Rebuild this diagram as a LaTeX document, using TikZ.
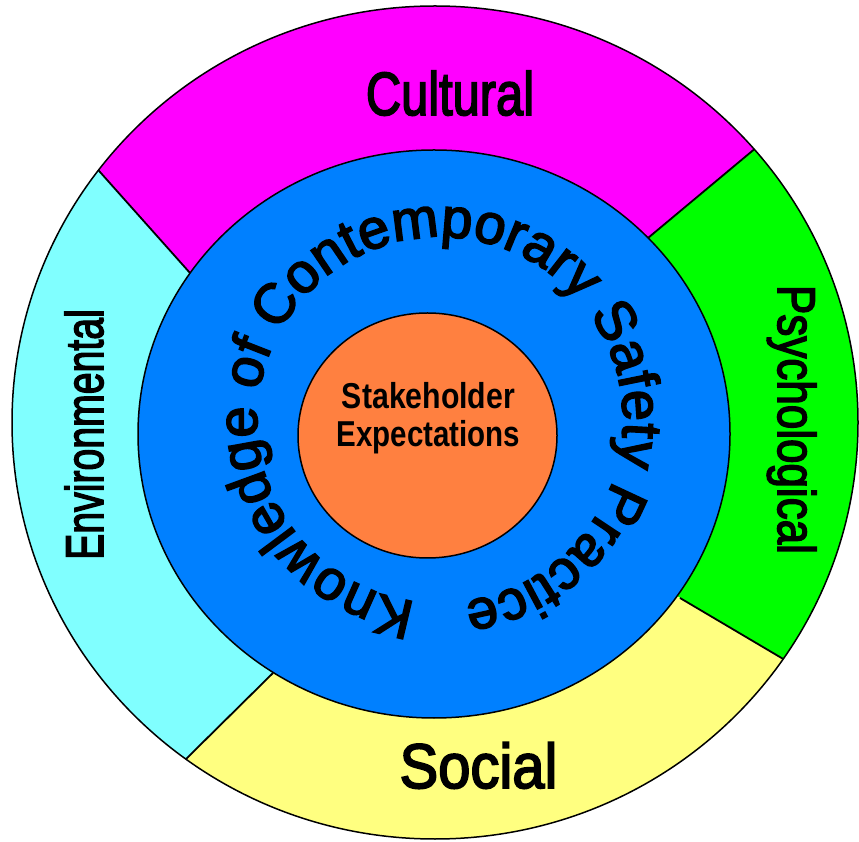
\documentclass[tikz,border=0pt]{standalone}
\usepackage{fontspec}
\usepackage{graphicx}
\setmainfont{Liberation Sans}
\newfontfamily\heavyfont[FakeBold=3]{Liberation Sans}
\usetikzlibrary{decorations.text}

\definecolor{culturalfill}{HTML}{FF00FF}
\definecolor{psychfill}{HTML}{00FF00}
\definecolor{socialfill}{HTML}{FFFF80}
\definecolor{envfill}{HTML}{80FFFF}
\definecolor{knowfill}{HTML}{0080FF}
\definecolor{stakefill}{HTML}{FF8040}

\newcommand\knowfont{\heavyfont\fontsize{56}{56}\selectfont}

\begin{document}
\begin{tikzpicture}[x=1pt,y=1pt,
  rim/.style={draw=black, line width=1.5pt},
  divider/.style={draw=black, line width=1.8pt},
  ringlabel/.style={inner sep=0pt, anchor=base, text=black},
  corelabel/.style={inner sep=0pt, anchor=base, text=black,
    font=\bfseries\fontsize{36}{38}\selectfont}]
\useasboundingbox (0,0) rectangle (859,841);

% hub and dividing-line end points
\coordinate (C0) at (435,411);
\coordinate (L1in) at (190,568);  \coordinate (L1far) at (-260,1073);
\coordinate (L2in) at (648,603);  \coordinate (L2far) at (1193,1058);
\coordinate (L3in) at (680,243);  \coordinate (L3far) at (1230,-82);
\coordinate (L4in) at (273,168);  \coordinate (L4far) at (-167,-267);

% outer ring of four sectors
\begin{scope}
  \clip (435,418.5) ellipse [x radius=423, y radius=416.5];
  \fill[culturalfill] (C0) -- (L1in) -- (L1far) -- (L2far) -- (L2in) -- cycle;
  \fill[psychfill]    (C0) -- (L2in) -- (L2far) -- (L3far) -- (L3in) -- cycle;
  \fill[socialfill]   (C0) -- (L3in) -- (L3far) -- (L4far) -- (L4in) -- cycle;
  \fill[envfill]      (C0) -- (L4in) -- (L4far) -- (L1far) -- (L1in) -- cycle;
  \draw[divider] (L1in) -- (L1far);
  \draw[divider] (L2in) -- (L2far);
  \draw[divider] (L3in) -- (L3far);
  \draw[divider] (L4in) -- (L4far);
\end{scope}
\draw[rim] (435,418.5) ellipse [x radius=423, y radius=416.5];

% middle ring and core
\filldraw[knowfill, rim] (434,407) ellipse [x radius=296, y radius=284];
\filldraw[stakefill, rim] (427.5,405.5) ellipse [x radius=129.5, y radius=122.5];

% curved text around the middle ring
\path[decorate, decoration={text along path, text align=center,
  text={|\knowfont|Knowledge of Contemporary Safety Practice}}]
  (440,238) arc [start angle=270, end angle=-90, radius=183];

% sector labels
\node[ringlabel] (cultural) at (450,726)
  {\heavyfont\fontsize{61}{61}\selectfont\scalebox{0.8}[1]{Cultural}};
\node[ringlabel] (social) at (478.5,53)
  {\heavyfont\fontsize{63}{63}\selectfont\scalebox{0.92}[1]{Social}};
\node[ringlabel, rotate=90] (environmental) at (103,406.5)
  {\heavyfont\fontsize{53}{53}\selectfont\scalebox{0.74}[1]{Environmental}};
\node[ringlabel, rotate=-90] (psychological) at (778,421.5)
  {\heavyfont\fontsize{53}{53}\selectfont\scalebox{0.83}[1]{Psychological}};

% core labels
\node[corelabel] (stake) at (428.5,432) {\scalebox{0.84}[1]{Stakeholder}};
\node[corelabel] (expect) at (428.5,394) {\scalebox{0.82}[1]{Expectations}};
\end{tikzpicture}
\end{document}
